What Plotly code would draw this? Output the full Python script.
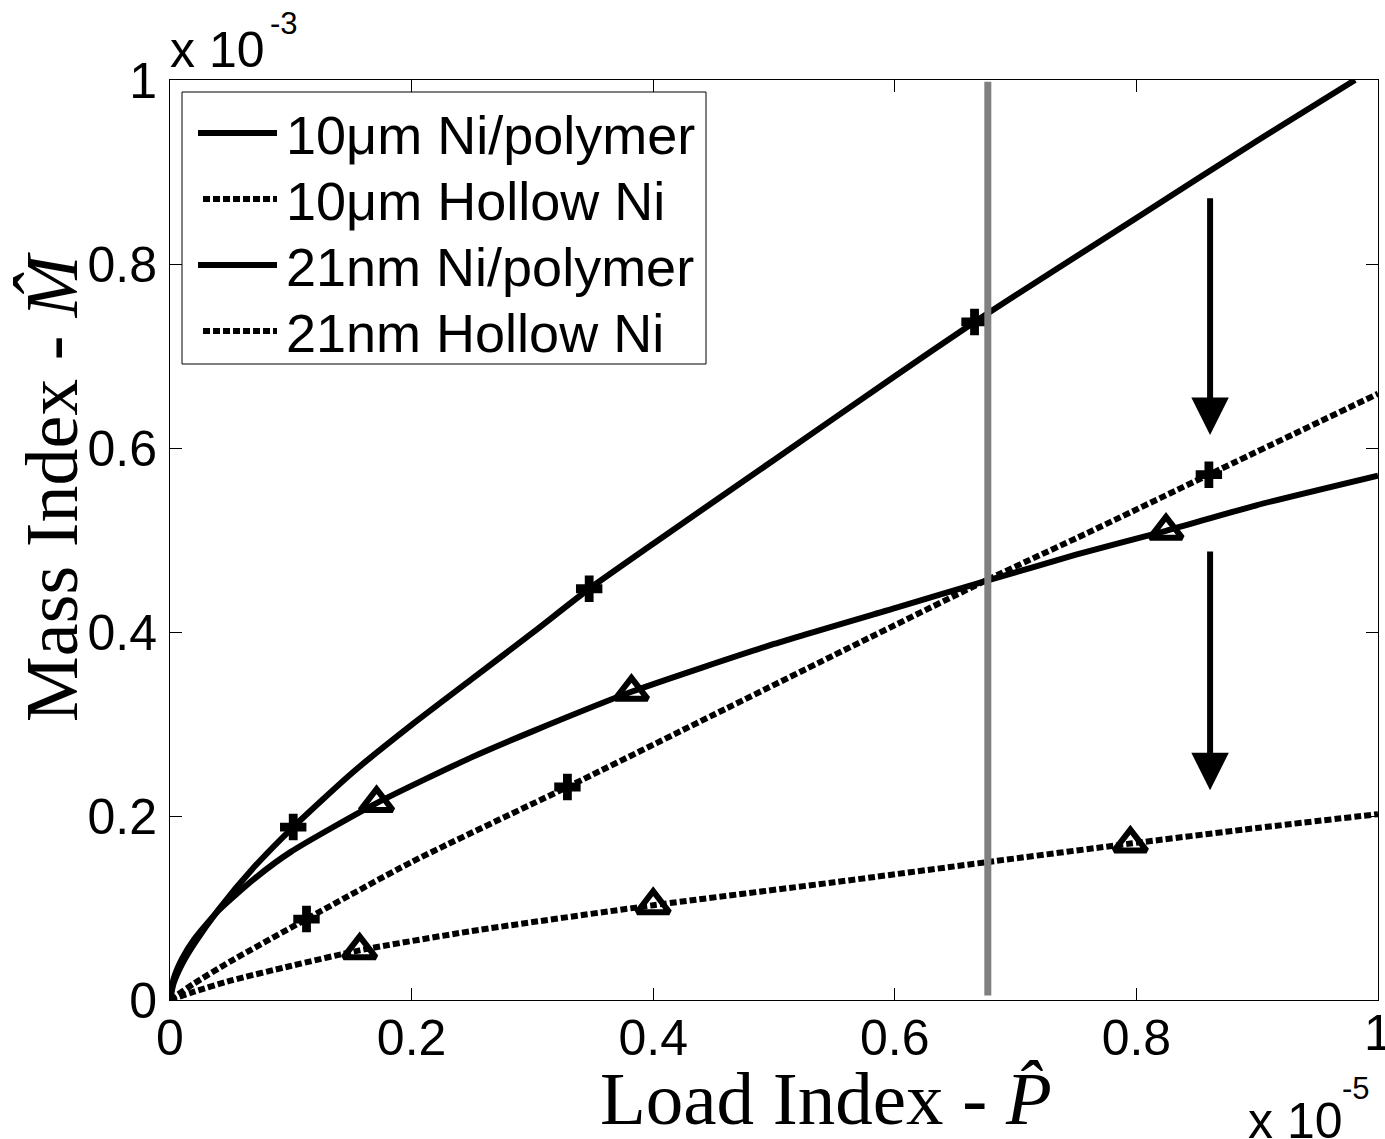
import plotly.graph_objects as go

# Load index P (x 1e-5) and mass index M (x 1e-3) for each material system
p_10um_poly = [0, 0.003, 0.01, 0.02, 0.04, 0.07, 0.102, 0.15, 0.2, 0.25, 0.3, 0.347,
               0.4, 0.5, 0.6, 0.666, 0.7, 0.8, 0.9, 0.981]
m_10um_poly = [0, 0.018, 0.039, 0.061, 0.098, 0.145, 0.188, 0.246, 0.299, 0.349, 0.399, 0.447,
               0.496, 0.587, 0.678, 0.737, 0.766, 0.850, 0.934, 1.0]

p_10um_hollow = [0, 0.02, 0.05, 0.113, 0.2, 0.329, 0.45, 0.55, 0.677, 0.76, 0.86, 1.0]
m_10um_hollow = [0, 0.018, 0.042, 0.088, 0.150, 0.2315, 0.31, 0.375, 0.457, 0.508, 0.571, 0.659]

p_21nm_poly = [0, 0.003, 0.01, 0.02, 0.04, 0.07, 0.1, 0.171, 0.25, 0.3, 0.382, 0.5, 0.6,
               0.677, 0.75, 0.8245, 0.9, 1.0]
m_21nm_poly = [0, 0.023, 0.045, 0.066, 0.097, 0.132, 0.161, 0.214, 0.264, 0.292, 0.335, 0.387,
               0.426, 0.456, 0.484, 0.51, 0.538, 0.57]

p_21nm_hollow = [0, 0.02, 0.05, 0.1, 0.157, 0.25, 0.4, 0.55, 0.677, 0.795, 0.9, 1.0]
m_21nm_hollow = [0, 0.009, 0.021, 0.037, 0.054, 0.075, 0.103, 0.128, 0.150, 0.170, 0.187, 0.202]

# Marked design points on each curve
mk_p_10um_poly = [0.102, 0.347, 0.666]
mk_m_10um_poly = [0.188, 0.447, 0.737]
mk_p_10um_hollow = [0.113, 0.329, 0.86]
mk_m_10um_hollow = [0.088, 0.2315, 0.571]
mk_p_21nm_poly = [0.171, 0.382, 0.8245]
mk_m_21nm_poly = [0.214, 0.335, 0.51]
mk_p_21nm_hollow = [0.157, 0.4, 0.795]
mk_m_21nm_hollow = [0.054, 0.103, 0.170]

series_names = ["10\u03bcm Ni/polymer", "10\u03bcm Hollow Ni",
                "21nm Ni/polymer", "21nm Hollow Ni"]

tick_vals = [0, 0.2, 0.4, 0.6, 0.8, 1]
tick_text = ["0", "0.2", "0.4", "0.6", "0.8", "1"]

# Reference load line and arrows (P x1e-5, M x1e-3)
p_reference = 0.677
arrow_p = 0.861
arrow_spans = [(0.873, 0.614), (0.489, 0.228)]

W, H = 1385, 1139
L, R, T, B = 170, 7, 80, 139
pw, ph = W - L - R, H - T - B

DOT = "7px,3px"
SANS = "Liberation Sans, Arial, sans-serif"
SERIF = "Liberation Serif, Times New Roman, serif"
TICK_SIZE = 50


def px(xpix):
    return (xpix - L) / pw


def py(ypix):
    return (T + ph - ypix) / ph


fig = go.Figure()

curves = [
    (p_10um_poly, m_10um_poly, "solid"),
    (p_10um_hollow, m_10um_hollow, DOT),
    (p_21nm_poly, m_21nm_poly, "solid"),
    (p_21nm_hollow, m_21nm_hollow, DOT),
]
for (xs, ys, dash), name in zip(curves, series_names):
    fig.add_trace(go.Scatter(x=xs, y=ys, mode="lines", name=name, showlegend=False,
                             line=dict(color="black", width=6, dash=dash,
                                       shape="spline", smoothing=0.6)))

marks = [
    (mk_p_10um_poly, mk_m_10um_poly, "cross"),
    (mk_p_10um_hollow, mk_m_10um_hollow, "cross"),
    (mk_p_21nm_poly, mk_m_21nm_poly, "triangle-up-open"),
    (mk_p_21nm_hollow, mk_m_21nm_hollow, "triangle-up-open"),
]
for xs, ys, sym in marks:
    if sym == "cross":
        mk = dict(symbol=sym, size=22, color="black", line=dict(width=0))
    else:
        mk = dict(symbol=sym, size=28, color="black", line=dict(width=6, color="black"))
    fig.add_trace(go.Scatter(x=xs, y=ys, mode="markers", showlegend=False, marker=mk,
                             hoverinfo="skip"))

shapes = [
    dict(type="line", xref="x", yref="y", x0=p_reference, x1=p_reference, y0=0.005, y1=0.998,
         line=dict(color="#808080", width=7), layer="above"),
]

annotations = []
for y_start, y_end in arrow_spans:
    annotations.append(dict(x=arrow_p, y=y_end, ax=arrow_p, ay=y_start, xref="x", yref="y",
                            axref="x", ayref="y", text="", showarrow=True, arrowhead=2,
                            arrowsize=1.25, arrowwidth=6, arrowcolor="black", standoff=0))

# Legend box drawn by hand so the line samples have their long form
lg_x0, lg_x1, lg_y0, lg_y1 = 182, 706, 92, 364
shapes.append(dict(type="rect", xref="paper", yref="paper", x0=px(lg_x0), x1=px(lg_x1),
                   y0=py(lg_y1), y1=py(lg_y0), line=dict(color="black", width=1),
                   fillcolor="white", layer="above"))
row_y = [133, 199, 265, 331]
row_dash = ["solid", DOT, "solid", DOT]
for yy, dash, name in zip(row_y, row_dash, series_names):
    x0 = 198 if dash == "solid" else 203
    shapes.append(dict(type="line", xref="paper", yref="paper", x0=px(x0), x1=px(277),
                       y0=py(yy), y1=py(yy), line=dict(color="black", width=6, dash=dash),
                       layer="above"))
    annotations.append(dict(x=px(284), y=py(yy + 2), xref="paper", yref="paper", text=name,
                            showarrow=False, xanchor="left", yanchor="middle",
                            font=dict(family=SANS, size=54, color="black")))

# The last x tick label sits at the right edge; place it directly so it does not
# push the plot margin
annotations.append(dict(x=tick_vals[-1], y=py(1033), xref="x", yref="paper",
                        text=tick_text[-1], showarrow=False, xanchor="center",
                        yanchor="middle",
                        font=dict(family=SANS, size=TICK_SIZE, color="black")))
x_tick_text = tick_text[:-1] + [""]

# Axis titles
annotations.append(dict(x=px(826), y=py(1098), xref="paper", yref="paper",
                        text="Load Index - <i>P\u0302</i>", showarrow=False,
                        xanchor="center", yanchor="middle",
                        font=dict(family=SERIF, size=75, color="black")))
annotations.append(dict(x=px(52), y=py(487), xref="paper", yref="paper",
                        text="Mass Index - <i>M\u0302</i>", showarrow=False, textangle=-90,
                        xanchor="center", yanchor="middle",
                        font=dict(family=SERIF, size=74, color="black")))

# Axis multipliers: base and exponent placed separately
annotations.append(dict(x=px(168), y=py(50), xref="paper", yref="paper",
                        text="x 10", showarrow=False, xanchor="left", yanchor="middle",
                        font=dict(family=SANS, size=TICK_SIZE, color="black")))
annotations.append(dict(x=px(268), y=py(24), xref="paper", yref="paper",
                        text="-3", showarrow=False, xanchor="left", yanchor="middle",
                        font=dict(family=SANS, size=31, color="black")))
annotations.append(dict(x=px(1246), y=py(1121), xref="paper", yref="paper",
                        text="x 10", showarrow=False, xanchor="left", yanchor="middle",
                        font=dict(family=SANS, size=TICK_SIZE, color="black")))
annotations.append(dict(x=px(1340), y=py(1088), xref="paper", yref="paper",
                        text="-5", showarrow=False, xanchor="left", yanchor="middle",
                        font=dict(family=SANS, size=31, color="black")))

axis_common = dict(showgrid=False, zeroline=False, showline=True, linecolor="black",
                   linewidth=1, mirror="ticks", ticks="inside", ticklen=12, tickwidth=1,
                   tickcolor="black", tickvals=tick_vals,
                   tickfont=dict(family=SANS, size=TICK_SIZE, color="black"))

fig.update_layout(
    width=W, height=H,
    margin=dict(l=L, r=R, t=T, b=B),
    paper_bgcolor="white", plot_bgcolor="white",
    xaxis=dict(range=[0, 1], ticktext=x_tick_text, ticklabelstandoff=-6, **axis_common),
    yaxis=dict(range=[0, 1], ticktext=tick_text, ticklabelstandoff=2, **axis_common),
    shapes=shapes,
    annotations=annotations,
    showlegend=False,
)

fig.write_html("out.html")
